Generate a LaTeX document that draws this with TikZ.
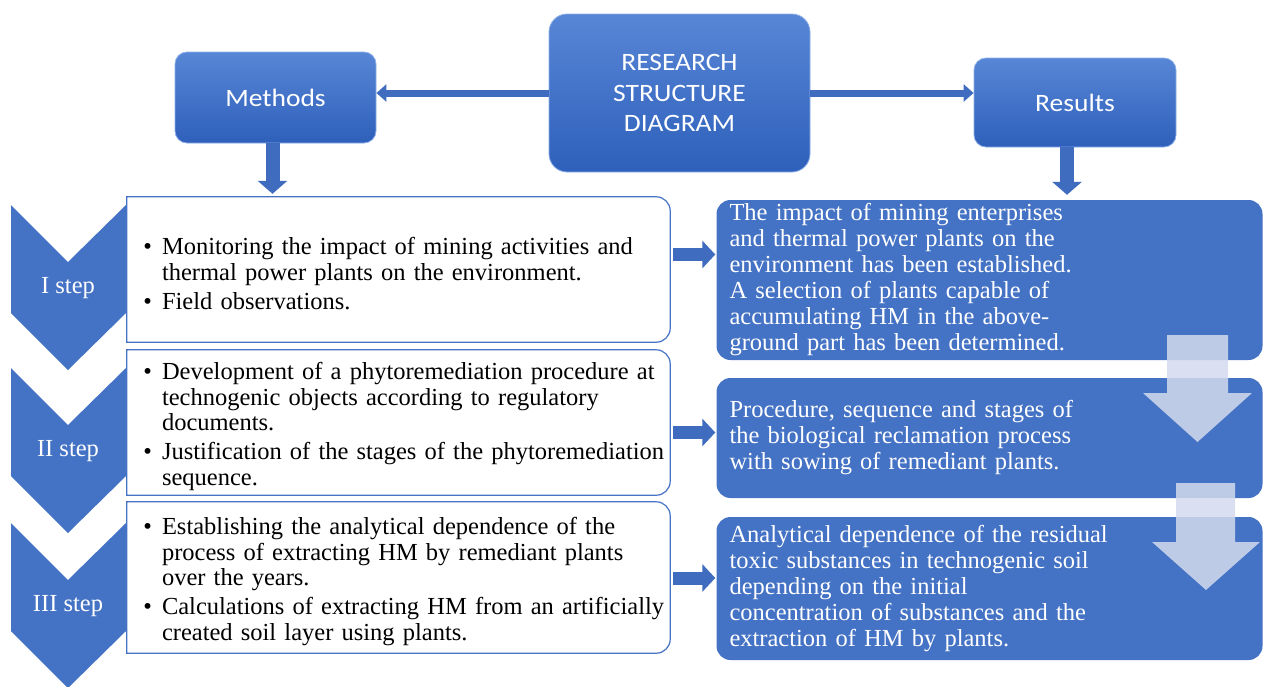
\documentclass[tikz,border=0pt]{standalone}
\usepackage{fontspec}
\setmainfont{Liberation Serif}
\newfontfamily\calibri{Carlito}[FakeStretch=1.1]
\usepackage{enumitem}
\usetikzlibrary{arrows.meta,positioning,calc}
\definecolor{step_blue}{RGB}{68,114,196}
\definecolor{edge_blue}{RGB}{63,108,190}
\definecolor{top_light}{RGB}{88,134,214}
\definecolor{top_dark}{RGB}{46,96,187}
\definecolor{rim_blue}{RGB}{140,175,232}
\definecolor{ghost_blue}{RGB}{212,219,238}
\setlist[itemize]{label=\textbullet, leftmargin=19pt, labelsep=10pt, rightmargin=-20pt, topsep=0pt, partopsep=0pt, parsep=0pt, itemsep=3.5pt}
% white frame: square on the left, round on the right
\newcommand{\wframe}[1]{\draw[wline] (#1.south west) -- (#1.north west) -- ([xshift=-14pt]#1.north east) arc[start angle=90,end angle=0,radius=14pt] -- ([yshift=14pt]#1.south east) arc[start angle=0,end angle=-90,radius=14pt] -- cycle;}

\begin{document}
\begin{tikzpicture}[x=1pt,y=-1pt]
    \tikzstyle{topbox}=[rounded corners=12pt, top color=top_light, bottom color=top_dark, draw=rim_blue, line width=0.8pt, text=white, inner sep=0pt, align=center, font=\calibri\fontsize{25}{30.5}\selectfont]
    \tikzstyle{wbox}=[inner xsep=16pt, inner ysep=0pt, text width=511pt, align=left, font=\fontsize{24.5}{25.5}\selectfont]
    \tikzstyle{bbox}=[rounded corners=14pt, fill=step_blue, text=white, inner xsep=13pt, inner ysep=0pt, text width=520pt, align=left, font=\fontsize{24.5}{26}\selectfont]
    \tikzstyle{wline}=[draw=step_blue, line width=1.2pt]
    \tikzstyle{steplab}=[text=white, font=\fontsize{24.5}{26}\selectfont]
    \tikzstyle{thin_arrow}=[draw=edge_blue, line width=7pt, -{Triangle[length=10pt,width=17pt]}]
    \tikzstyle{fat_arrow}=[draw=edge_blue, line width=14pt, -{Triangle[length=13pt,width=29pt]}]
    \tikzstyle{mid_arrow}=[draw=edge_blue, line width=13pt, -{Triangle[length=13pt,width=27pt]}, shorten >=1pt]
    \tikzstyle{ghost}=[fill=ghost_blue, opacity=0.85]

    \useasboundingbox (0,0) rectangle (1263,686);

    % top row
    \node[topbox, minimum width=201pt, minimum height=91pt] (methods) at (275.5,97.5) {Methods};
    \node[topbox, rounded corners=18pt, minimum width=261pt, minimum height=158pt] (rsd) at (679.5,93) {RESEARCH\\STRUCTURE\\DIAGRAM};
    \node[topbox, minimum width=202pt, minimum height=89pt] (results) at (1075,102.5) {Results};

    % step chevrons
    \foreach \ty/\nm/\txt in {205/s1/I step,368/s2/II step,523/s3/III step}{
      \fill[step_blue] (11,\ty) -- (68,\ty+57) -- (126,\ty) -- (126,\ty+108) -- (68,\ty+165) -- (11,\ty+108) -- cycle;
      \node[steplab] (\nm) at (68,\ty+83) {\txt};
    }

    % methods column
    \node[wbox, minimum height=145pt] (w1) at (398.5,269.5) {\begin{itemize}
      \item Monitoring the impact of mining activities and\newline thermal power plants on the environment.
      \item Field observations.
    \end{itemize}\vspace*{7pt}};
    \node[wbox, minimum height=145pt] (w2) at (398.5,422.5) {\begin{itemize}
      \item Development of a phytoremediation procedure at\newline technogenic objects according to regulatory\newline documents.
      \item Justification of the stages of the phytoremediation\newline sequence.
    \end{itemize}\vspace*{6pt}};
    \node[wbox, minimum height=151pt] (w3) at (398.5,577.5) {\begin{itemize}
      \item Establishing the analytical dependence of the\newline process of extracting HM by remediant plants\newline over the years.
      \item Calculations of extracting HM from an artificially\newline created soil layer using plants.
    \end{itemize}\vspace*{6pt}};
    \wframe{w1}
    \wframe{w2}
    \wframe{w3}

    % results column
    \node[bbox, minimum height=160pt] (r1) at (989.5,280) {The impact of mining enterprises\\and thermal power plants on the\\environment has been established.\\A selection of plants capable of\\accumulating HM in the above-\\ground part has been determined.};
    \node[bbox, minimum height=120pt] (r2) at (989.5,438) {Procedure, sequence and stages of\\the biological reclamation process\\with sowing of remediant plants.};
    \node[bbox, minimum height=143pt] (r3) at (989.5,588.5) {Analytical dependence of the residual\\toxic substances in technogenic soil\\depending on the initial\\concentration of substances and the\\extraction of HM by plants.};

    \coordinate (a1) at ($(w1.east)+(3,-15)$);
    \coordinate (a2) at ($(w2.east)+(3,10)$);
    \coordinate (a3) at ($(w3.east)+(3,0.5)$);

    \path
     (rsd.west) edge[thin_arrow] (rsd.west -| methods.east)
     (rsd.east) edge[thin_arrow] (rsd.east -| results.west)
     ([xshift=-3pt]methods.south) edge[fat_arrow, shorten >=3pt] ([xshift=-3pt]methods.south |- w1.north)
     ([xshift=-8pt]results.south) edge[fat_arrow, shorten >=5pt] ([xshift=-8pt]results.south |- r1.north)
     (a1) edge[mid_arrow] (a1 -| r1.west)
     (a2) edge[mid_arrow] (a2 -| r2.west)
     (a3) edge[mid_arrow] (a3 -| r3.west)
     ;

    % pale arrows between the results
    \fill[ghost] (1167,335) -- (1228,335) -- (1228,393) -- (1252,393) -- (1197.5,442) -- (1143,393) -- (1167,393) -- cycle;
    \fill[ghost] (1176,483) -- (1235,483) -- (1235,542) -- (1260,542) -- (1206,590) -- (1152,542) -- (1176,542) -- cycle;
\end{tikzpicture}
\end{document}
